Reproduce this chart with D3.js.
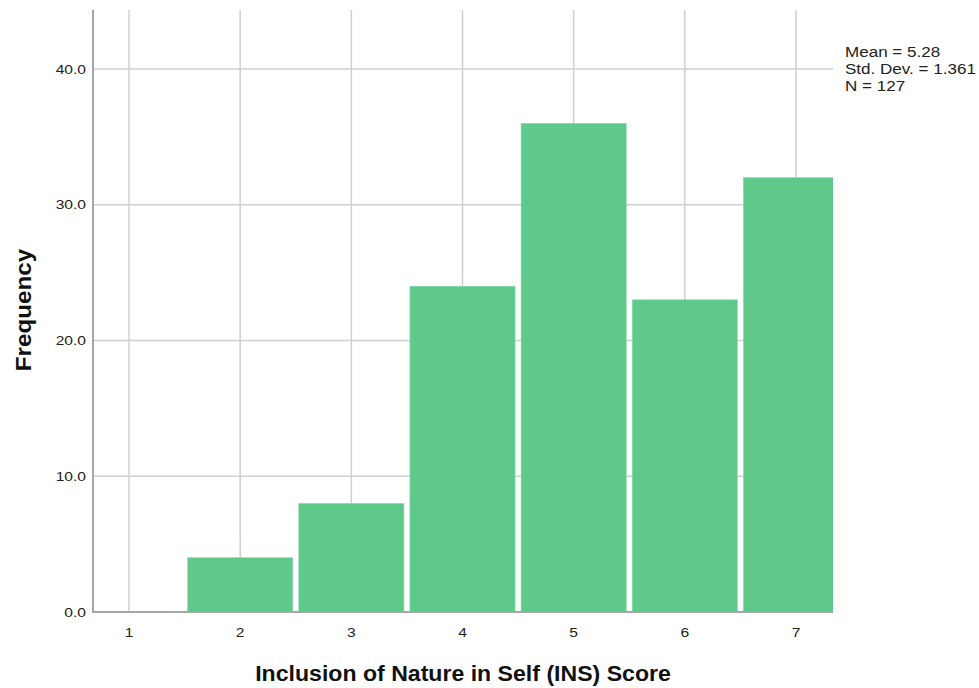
<!DOCTYPE html>
<html><head><meta charset="utf-8">
<script src="https://cdn.jsdelivr.net/npm/d3@7/dist/d3.min.js"></script>
<style>body{margin:0;background:#fff;font-family:"Liberation Sans",Arial,sans-serif;}</style>
</head><body><svg id="c" width="979" height="688"></svg>
<script>
const categories = [1, 2, 3, 4, 5, 6, 7];
const frequencies = [0, 4, 8, 24, 36, 23, 32];
const yTicks = [0, 10, 20, 30, 40];
const statsLines = ["Mean = 5.28", "Std. Dev. = 1.361", "N = 127"];
const xTitle = "Inclusion of Nature in Self (INS) Score";
const yTitle = "Frequency";

const svg = d3.select("#c");
const L = 93, R = 833, T = 10, B = 612;
const x = d3.scaleLinear().domain([0.676, 7.333]).range([L, R]);
const y = d3.scaleLinear().domain([0, 44.35]).range([B, T]);

svg.append("defs").append("clipPath").attr("id","clip")
  .append("rect").attr("x",L).attr("y",T).attr("width",R-L).attr("height",B-T);

const g = svg.append("g");
g.selectAll("line.vg").data(categories).join("line")
  .attr("x1",d=>x(d)).attr("x2",d=>x(d)).attr("y1",T).attr("y2",B)
  .attr("stroke","#cfcfcf").attr("stroke-width",1.5);
g.selectAll("line.hg").data(yTicks.filter(d=>d>0)).join("line")
  .attr("x1",L).attr("x2",R).attr("y1",d=>y(d)).attr("y2",d=>y(d))
  .attr("stroke","#cfcfcf").attr("stroke-width",1.5);

const inset = 3;
g.append("g").attr("clip-path","url(#clip)")
  .selectAll("rect").data(categories.map((c,i)=>({c,v:frequencies[i]})).filter(d=>d.v>0)).join("rect")
  .attr("x",d=>x(d.c-0.5)+inset)
  .attr("width",d=>x(d.c+0.5)-x(d.c-0.5)-2*inset)
  .attr("y",d=>y(d.v)).attr("height",d=>y(0)-y(d.v))
  .attr("fill","#5ec98a").attr("stroke","#8fd9ad").attr("stroke-width",0.6);

g.append("line").attr("x1",L).attr("x2",L).attr("y1",T).attr("y2",B+1)
  .attr("stroke","#a6a6a6").attr("stroke-width",2);
g.append("line").attr("x1",L).attr("x2",R).attr("y1",B).attr("y2",B)
  .attr("stroke","#a6a6a6").attr("stroke-width",2);

function stext(parent, tx, ty, rot, sx, size, anchor, weight, fill, str) {
  const t = parent.append("g").attr("transform",`translate(${tx},${ty}) rotate(${rot}) scale(${sx},1)`);
  t.append("text").attr("text-anchor",anchor).attr("font-size",size)
   .attr("font-weight",weight).attr("fill",fill).text(str);
}

yTicks.forEach(d => stext(g, L-7, y(d)+4.5, 0, 1.2, 13, "end", "normal", "#222", d3.format(".1f")(d)));
categories.forEach(d => stext(g, x(d), B+25, 0, 1.2, 13, "middle", "normal", "#222", d));

stext(svg, 463, 681, 0, 1.05, 22, "middle", "bold", "#111", xTitle);
stext(svg, 31, 310, -90, 1.1, 22, "middle", "bold", "#111", yTitle);

statsLines.forEach((d,i) => stext(svg, 845, 57+i*17, 0, 1.1, 15.5, "start", "normal", "#222", d));
</script></body></html>
